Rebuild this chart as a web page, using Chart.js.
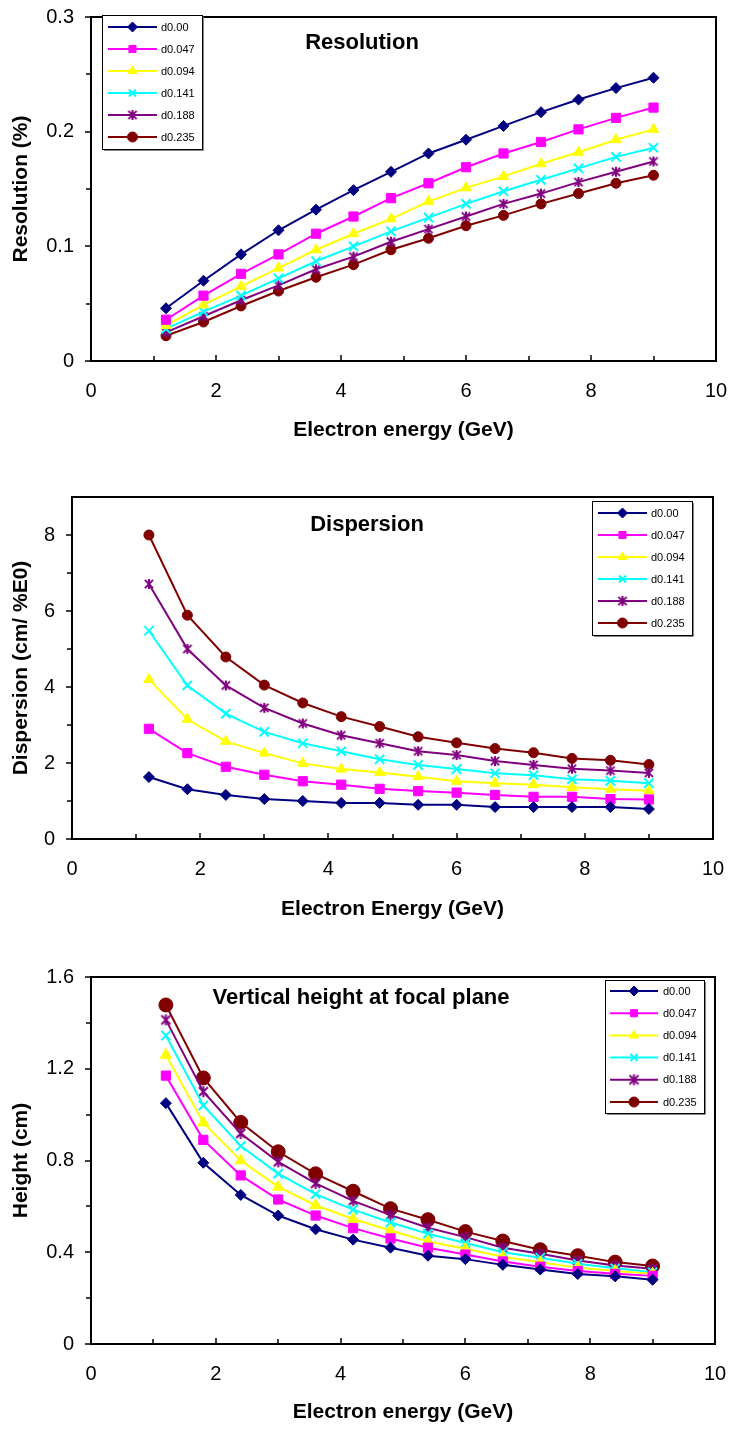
<!DOCTYPE html>
<html>
<head>
<meta charset="utf-8">
<script src="https://cdn.jsdelivr.net/npm/chart.js@4.4.1/dist/chart.umd.min.js"></script>
<style>
  html, body { margin: 0; padding: 0; background: #fff; }
  body { width: 733px; height: 1432px; position: relative; overflow: hidden; }
  canvas { position: absolute; left: 0; }
</style>
</head>
<body>
<canvas id="resChart" width="733" height="460" style="top:0px"></canvas>
<canvas id="dispChart" width="733" height="470" style="top:470px"></canvas>
<canvas id="heightChart" width="733" height="482" style="top:950px"></canvas>
<script>
// ---- data -----------------------------------------------------------
const energies = [1.2, 1.8, 2.4, 3.0, 3.6, 4.2, 4.8, 5.4, 6.0, 6.6, 7.2, 7.8, 8.4, 9.0];
const seriesNames = ['d0.00', 'd0.047', 'd0.094', 'd0.141', 'd0.188', 'd0.235'];

// Resolution (%)
const res_d000 = [0.046, 0.070, 0.093, 0.114, 0.132, 0.149, 0.165, 0.181, 0.193, 0.205, 0.217, 0.228, 0.238, 0.247];
const res_d047 = [0.036, 0.057, 0.076, 0.093, 0.111, 0.126, 0.142, 0.155, 0.169, 0.181, 0.191, 0.202, 0.212, 0.221];
const res_d094 = [0.031, 0.049, 0.065, 0.081, 0.097, 0.111, 0.124, 0.139, 0.151, 0.161, 0.172, 0.182, 0.193, 0.202];
const res_d141 = [0.028, 0.043, 0.057, 0.072, 0.087, 0.100, 0.113, 0.125, 0.137, 0.148, 0.158, 0.168, 0.178, 0.186];
const res_d188 = [0.025, 0.039, 0.053, 0.066, 0.080, 0.091, 0.104, 0.115, 0.126, 0.137, 0.146, 0.156, 0.165, 0.174];
const res_d235 = [0.022, 0.034, 0.048, 0.061, 0.073, 0.084, 0.097, 0.107, 0.118, 0.127, 0.137, 0.146, 0.155, 0.162];

// Dispersion (cm / %E0)
const disp_d000 = [1.63, 1.31, 1.16, 1.05, 1.00, 0.95, 0.95, 0.90, 0.90, 0.84, 0.84, 0.84, 0.84, 0.79];
const disp_d047 = [2.90, 2.26, 1.90, 1.69, 1.52, 1.43, 1.32, 1.26, 1.22, 1.16, 1.11, 1.11, 1.05, 1.04];
const disp_d094 = [4.20, 3.15, 2.57, 2.26, 1.99, 1.84, 1.75, 1.64, 1.52, 1.47, 1.43, 1.36, 1.31, 1.27];
const disp_d141 = [5.48, 4.04, 3.30, 2.82, 2.52, 2.31, 2.10, 1.95, 1.84, 1.73, 1.68, 1.57, 1.53, 1.47];
const disp_d188 = [6.71, 5.00, 4.04, 3.45, 3.04, 2.73, 2.52, 2.31, 2.21, 2.05, 1.95, 1.85, 1.80, 1.74];
const disp_d235 = [8.00, 5.89, 4.79, 4.05, 3.58, 3.22, 2.96, 2.69, 2.53, 2.38, 2.27, 2.12, 2.07, 1.96];

// Vertical height at focal plane (cm)
const hgt_d000 = [1.05, 0.79, 0.65, 0.56, 0.50, 0.455, 0.42, 0.385, 0.37, 0.345, 0.325, 0.305, 0.295, 0.28];
const hgt_d047 = [1.17, 0.89, 0.735, 0.63, 0.56, 0.505, 0.46, 0.42, 0.39, 0.36, 0.337, 0.318, 0.306, 0.297];
const hgt_d094 = [1.26, 0.965, 0.80, 0.685, 0.605, 0.545, 0.495, 0.447, 0.415, 0.38, 0.356, 0.333, 0.318, 0.306];
const hgt_d141 = [1.345, 1.04, 0.863, 0.743, 0.653, 0.586, 0.53, 0.481, 0.44, 0.40, 0.376, 0.35, 0.33, 0.313];
const hgt_d188 = [1.413, 1.10, 0.918, 0.794, 0.70, 0.624, 0.562, 0.507, 0.466, 0.42, 0.393, 0.364, 0.342, 0.328];
const hgt_d235 = [1.478, 1.16, 0.966, 0.838, 0.742, 0.666, 0.59, 0.542, 0.49, 0.449, 0.411, 0.385, 0.357, 0.34];

// axis ticks
const xLabelTicks = [0, 2, 4, 6, 8, 10];
const xMinorTicks = [1, 3, 5, 7, 9];
const resYTicks = [0, 0.1, 0.2, 0.3];
const resYMinor = [0.05, 0.15, 0.25];
const dispYTicks = [0, 2, 4, 6, 8];
const dispYMinor = [1, 3, 5, 7];
const hgtYTicks = [0, 0.4, 0.8, 1.2, 1.6];
const hgtYMinor = [0.2, 0.6, 1.0, 1.4];

// ---- styling --------------------------------------------------------
const FONT = "'Liberation Sans', Arial, Helvetica, sans-serif";
Chart.defaults.font.family = FONT;
Chart.defaults.color = '#000';

const palette = ['#000080', '#FF00FF', '#FFFF00', '#00FFFF', '#800080', '#800000'];

// six-spoke asterisk marker
function asteriskMarker(color, size) {
  const c = document.createElement('canvas');
  c.width = c.height = size;
  const g = c.getContext('2d');
  g.strokeStyle = color;
  g.lineWidth = 2;
  const m = size / 2, r = size / 2 - 1, d = r * 0.82;
  g.beginPath();
  g.moveTo(m - d, m - d); g.lineTo(m + d, m + d);
  g.moveTo(m + d, m - d); g.lineTo(m - d, m + d);
  g.moveTo(m, m - r); g.lineTo(m, m + r);
  g.stroke();
  return c;
}

function buildDatasets(seriesList, radii, starSize) {
  const styles = ['rectRot', 'rect', 'triangle', 'crossRot', asteriskMarker(palette[4], starSize), 'circle'];
  return seriesList.map((vals, i) => ({
    label: seriesNames[i],
    data: energies.map((e, j) => ({ x: e, y: vals[j] })),
    borderColor: palette[i],
    backgroundColor: palette[i],
    pointBackgroundColor: palette[i],
    pointBorderColor: palette[i],
    pointStyle: styles[i],
    pointRadius: radii[i],
    pointHoverRadius: radii[i],
    pointBorderWidth: i === 3 ? 2 : 1,
    borderWidth: 2,
    tension: 0,
    fill: false
  }));
}

// plot frame plus Excel-style tick marks (x inward, y outward)
const excelFrame = {
  id: 'excelFrame',
  beforeDatasetsDraw(chart, args, o) {
    const { ctx, chartArea: a, scales: { x, y } } = chart;
    ctx.save();
    ctx.strokeStyle = '#000';
    ctx.lineWidth = 1.5;
    ctx.beginPath();
    const xt = (v, len) => { const p = Math.round(x.getPixelForValue(v)); ctx.moveTo(p, a.bottom); ctx.lineTo(p, a.bottom - len); };
    const yt = (v, len) => { const p = Math.round(y.getPixelForValue(v)); ctx.moveTo(a.left, p); ctx.lineTo(a.left - len, p); };
    o.xMajor.forEach(v => xt(v, 6));
    o.xMinor.forEach(v => xt(v, 5));
    o.yMajor.forEach(v => yt(v, 6));
    o.yMinor.forEach(v => yt(v, 5));
    ctx.stroke();
    ctx.lineWidth = 2;
    ctx.strokeRect(a.left, a.top, a.right - a.left, a.bottom - a.top);
    ctx.restore();
  }
};

// boxed legend with line + marker samples
const boxLegend = {
  id: 'boxLegend',
  afterDatasetsDraw(chart, args, o) {
    const ctx = chart.ctx;
    ctx.save();
    ctx.fillStyle = '#fff';
    ctx.fillRect(o.x, o.y, o.w, o.h);
    ctx.strokeStyle = '#000';
    ctx.lineWidth = 1;
    ctx.strokeRect(o.x + 0.5, o.y + 0.5, o.w, o.h);
    ctx.strokeStyle = '#888';
    ctx.beginPath();
    ctx.moveTo(o.x + 2, o.y + o.h + 1.5); ctx.lineTo(o.x + o.w + 1.5, o.y + o.h + 1.5); ctx.lineTo(o.x + o.w + 1.5, o.y + 2);
    ctx.stroke();
    chart.data.datasets.forEach((ds, i) => {
      const cy = o.firstRow + i * o.rowStep;
      ctx.strokeStyle = ds.borderColor;
      ctx.lineWidth = 2;
      ctx.beginPath();
      ctx.moveTo(o.lineX0, cy); ctx.lineTo(o.lineX1, cy);
      ctx.stroke();
      ctx.fillStyle = ds.pointBackgroundColor;
      ctx.strokeStyle = ds.pointBorderColor;
      ctx.lineWidth = ds.pointBorderWidth;
      const mx = (o.lineX0 + o.lineX1) / 2;
      if (Chart.helpers && Chart.helpers.drawPoint) {
        Chart.helpers.drawPoint(ctx, { pointStyle: ds.pointStyle, rotation: 0, radius: o.markerRadius, borderWidth: ds.pointBorderWidth }, mx, cy);
      } else {
        ctx.beginPath(); ctx.arc(mx, cy, o.markerRadius, 0, Math.PI * 2); ctx.fill();
      }
      ctx.fillStyle = '#000';
      ctx.font = '11px ' + FONT;
      ctx.textAlign = 'left';
      ctx.textBaseline = 'middle';
      ctx.fillText(ds.label, o.textX, cy + 0.5);
    });
    ctx.restore();
  }
};

// chart heading placed inside the plot area
const plotTitle = {
  id: 'plotTitle',
  afterDatasetsDraw(chart, args, o) {
    const ctx = chart.ctx;
    ctx.save();
    ctx.fillStyle = '#000';
    ctx.font = 'bold 22px ' + FONT;
    ctx.textAlign = 'center';
    ctx.textBaseline = 'middle';
    ctx.fillText(o.text, o.x, o.y);
    ctx.restore();
  }
};

function fmt(v) { return String(Math.round(v * 1000) / 1000); }

function zeroPadding(s) {
  s.paddingTop = 0; s.paddingBottom = 0; s.paddingLeft = 0; s.paddingRight = 0;
}

function makeChart(id, cfg) {
  const canvas = document.getElementById(id);
  const H = canvas.height;
  const top = cfg.canvasTop;
  const L = cfg.plot.left, R = cfg.plot.right, T = cfg.plot.top - top, B = cfg.plot.bottom - top;
  const lg = cfg.legend;
  const pad = { left: 0, right: 733 - R, top: T, bottom: 0 };
  const chart = new Chart(canvas, {
    type: 'line',
    data: { datasets: cfg.datasets },
    options: {
      responsive: false,
      animation: false,
      devicePixelRatio: 1,
      events: [],
      layout: { autoPadding: false, padding: Object.assign({}, pad) },
      plugins: {
        legend: { display: false },
        tooltip: { enabled: false },
        title: { display: false },
        excelFrame: { xMajor: xLabelTicks, xMinor: xMinorTicks, yMajor: cfg.yTicks, yMinor: cfg.yMinor },
        boxLegend: {
          x: lg.x, y: lg.y - top, w: lg.w, h: lg.h,
          firstRow: lg.firstRow - top, rowStep: lg.rowStep,
          lineX0: lg.lineX0, lineX1: lg.lineX1, textX: lg.textX, markerRadius: lg.markerRadius
        },
        plotTitle: { text: cfg.title, x: cfg.titlePos[0], y: cfg.titlePos[1] - top }
      },
      scales: {
        x: {
          type: 'linear', position: 'bottom', min: 0, max: 10,
          afterFit: s => { s.height = H - B; zeroPadding(s); },
          afterBuildTicks: s => { s.ticks = xLabelTicks.map(v => ({ value: v })); },
          grid: { display: false, drawTicks: false },
          border: { display: false },
          ticks: { padding: 18, autoSkip: false, maxRotation: 0, color: '#000', font: { size: 20 }, callback: v => fmt(v) },
          title: {
            display: true, text: cfg.xTitle, color: '#000',
            font: { size: 21, weight: 'bold' },
            padding: { top: 0, bottom: H - (cfg.xTitleY - top) - 12.6 }
          }
        },
        y: {
          type: 'linear', position: 'left', min: cfg.yMin, max: cfg.yMax,
          afterFit: s => { s.width = L; zeroPadding(s); },
          afterBuildTicks: s => { s.ticks = cfg.yTicks.map(v => ({ value: v })); },
          grid: { display: false, drawTicks: false },
          border: { display: false },
          ticks: { padding: 17, autoSkip: false, color: '#000', font: { size: 20 }, callback: v => fmt(v) },
          title: {
            display: true, text: cfg.yTitle, color: '#000',
            font: { size: 21, weight: 'bold' },
            padding: { top: cfg.yTitleX - 12.6, bottom: 0 }
          }
        }
      }
    },
    plugins: [excelFrame, plotTitle, boxLegend]
  });
  // settle the plot box on the intended edges
  for (let k = 0; k < 3; k++) {
    const a = chart.chartArea;
    const dTop = a.top - T, dRight = R - a.right;
    if (Math.abs(dTop) < 0.5 && Math.abs(dRight) < 0.5) break;
    pad.top = Math.max(0, pad.top - dTop);
    pad.right = Math.max(0, pad.right - dRight);
    chart.options.layout.padding = Object.assign({}, pad);
    chart.update();
  }
  return chart;
}

// ---- charts ---------------------------------------------------------
makeChart('resChart', {
  canvasTop: 0,
  plot: { left: 91, right: 716, top: 17, bottom: 361 },
  datasets: buildDatasets([res_d000, res_d047, res_d094, res_d141, res_d188, res_d235], [5.5, 6.5, 6, 6.5, 6, 5], 12),
  yMin: 0, yMax: 0.3, yTicks: resYTicks, yMinor: resYMinor,
  title: 'Resolution', titlePos: [362, 43],
  xTitle: 'Electron energy (GeV)', xTitleY: 430,
  yTitle: 'Resolution (%)', yTitleX: 21,
  legend: { x: 102, y: 15, w: 100, h: 134, firstRow: 27, rowStep: 22, lineX0: 108, lineX1: 157, textX: 161, markerRadius: 5 }
});

makeChart('dispChart', {
  canvasTop: 470,
  plot: { left: 72, right: 713, top: 497, bottom: 839 },
  datasets: buildDatasets([disp_d000, disp_d047, disp_d094, disp_d141, disp_d188, disp_d235], [5.5, 6.5, 6, 6.5, 6, 5], 12),
  yMin: 0, yMax: 9, yTicks: dispYTicks, yMinor: dispYMinor,
  title: 'Dispersion', titlePos: [367, 525],
  xTitle: 'Electron Energy (GeV)', xTitleY: 909,
  yTitle: 'Dispersion (cm/ %E0)', yTitleX: 21,
  legend: { x: 592, y: 501, w: 100, h: 134, firstRow: 513, rowStep: 22, lineX0: 598, lineX1: 647, textX: 651, markerRadius: 5 }
});

makeChart('heightChart', {
  canvasTop: 950,
  plot: { left: 91, right: 715, top: 977, bottom: 1344 },
  datasets: buildDatasets([hgt_d000, hgt_d047, hgt_d094, hgt_d141, hgt_d188, hgt_d235], [5.5, 6.5, 6.5, 6.5, 6.5, 7], 13),
  yMin: 0, yMax: 1.6, yTicks: hgtYTicks, yMinor: hgtYMinor,
  title: 'Vertical height at focal plane', titlePos: [361, 998],
  xTitle: 'Electron energy (GeV)', xTitleY: 1412,
  yTitle: 'Height (cm)', yTitleX: 21,
  legend: { x: 605, y: 980, w: 99, h: 133, firstRow: 991, rowStep: 22.2, lineX0: 610, lineX1: 658, textX: 663, markerRadius: 5 }
});
</script>
</body>
</html>
